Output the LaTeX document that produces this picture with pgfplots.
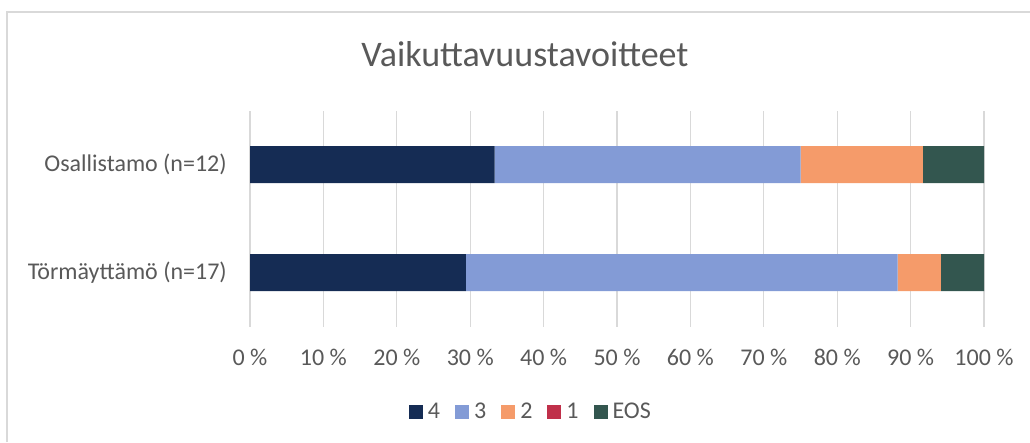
\documentclass[border=0pt]{standalone}
\usepackage{pgfplots}
\pgfplotsset{compat=1.18}
\usepackage{fontspec}
\setmainfont{Carlito}
\definecolor{c4}{HTML}{152C54}
\definecolor{c3}{HTML}{839BD6}
\definecolor{c2}{HTML}{F59B6A}
\definecolor{c1}{HTML}{C0304A}
\definecolor{ceos}{HTML}{33564F}
\definecolor{txt}{HTML}{595959}
\definecolor{grd}{HTML}{D9D9D9}
\begin{document}
\begin{tikzpicture}
\useasboundingbox (0,0) rectangle (772.5pt,-331.5pt);
\draw[grd, line width=1.2pt] (5.25pt,-331.5pt) -- (5.25pt,-9pt) -- (772.5pt,-9pt);
\node[text=txt, anchor=base, inner sep=0pt, font=\fontsize{27}{32}\selectfont] at (393.75pt,-50pt) {Vaikuttavuustavoitteet};
\begin{axis}[
  at={(187.5pt,-244.875pt)}, anchor=south west,
  scale only axis, width=550.5pt, height=162pt,
  xbar stacked, bar width=27.75pt,
  xmin=0, xmax=100, ymin=-0.5, ymax=1.5,
  xtick={0,10,20,30,40,50,60,70,80,90,100},
  xticklabels={0 \%,10 \%,20 \%,30 \%,40 \%,50 \%,60 \%,70 \%,80 \%,90 \%,100 \%},
  ytick={0,1}, yticklabels={Törmäyttämö (n=17),Osallistamo (n=12)},
  xmajorgrids, ymajorgrids=false, grid style={grd, line width=0.9pt},
  axis line style={draw=none}, major tick length=0pt,
  tick label style={font=\fontsize{18}{22}\selectfont, text=txt},
  xticklabel style={anchor=base, yshift=-29.6pt, inner sep=0pt},
  yticklabel style={anchor=east, xshift=-17.25pt, inner sep=0pt},
  legend columns=-1,
  legend style={at={(0.2166,-0.3958)}, anchor=west, draw=none, fill=none,
    inner sep=0pt, outer sep=0pt, font=\fontsize{18}{22}\selectfont, text=txt,
    nodes={inner sep=0pt, font=\fontsize{18}{22}\selectfont, text=txt},
    /tikz/every odd column/.append style={column sep=3.75pt},
    /tikz/every even column/.append style={column sep=11.25pt}},
  legend image code/.code={\fill[#1] (0pt,-5.25pt) rectangle (10.5pt,5.25pt);},
]
\addplot[fill=c4, draw=none] coordinates {(29.412,0) (33.333,1)};
\addplot[fill=c3, draw=none] coordinates {(58.824,0) (41.667,1)};
\addplot[fill=c2, draw=none] coordinates {(5.882,0) (16.667,1)};
\addplot[fill=c1, draw=none] coordinates {(0,0) (0,1)};
\addplot[fill=ceos, draw=none] coordinates {(5.882,0) (8.333,1)};
\legend{4,3,2,1,EOS}
\end{axis}
\end{tikzpicture}
\end{document}
